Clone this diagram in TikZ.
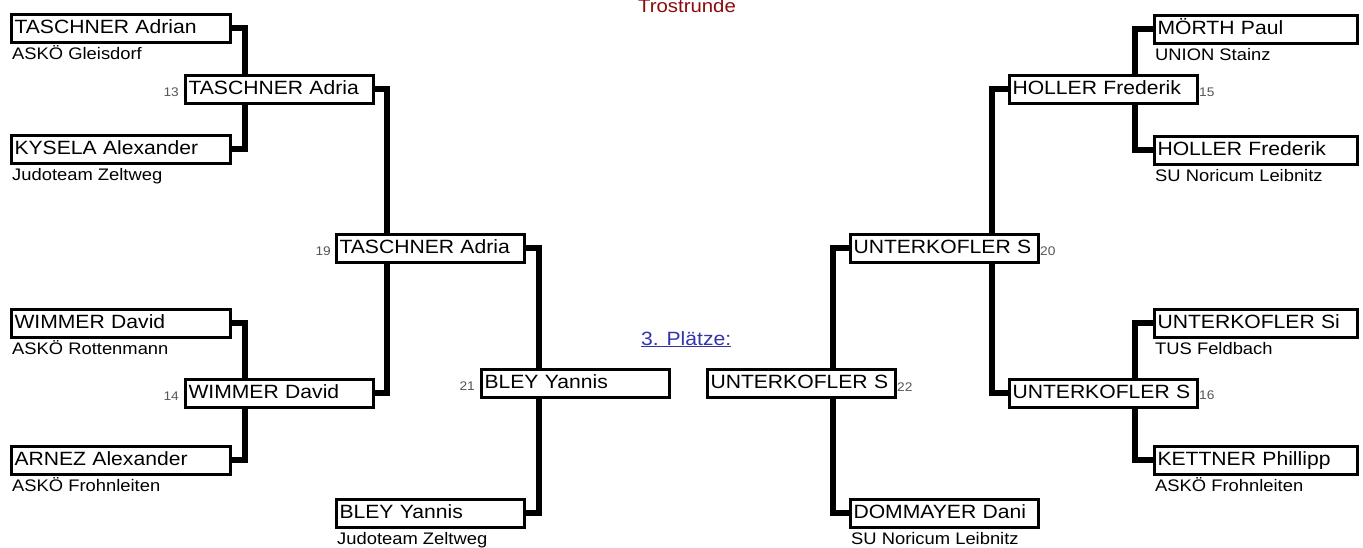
\documentclass[tikz,border=0pt]{standalone}
\usepackage{fontspec}
\setmainfont{Liberation Sans}[FakeStretch=1.1]
\usetikzlibrary{backgrounds}
\definecolor{trost}{RGB}{140,10,10}
\definecolor{linkblue}{RGB}{51,51,170}
\definecolor{numgray}{RGB}{85,85,85}
\tikzset{
  pbox/.style={draw, line width=3pt, fill=white, anchor=north west, inner xsep=3.5pt, inner ysep=0pt,
    minimum height=28pt, text height=14pt, text depth=4pt, align=left,
    font=\fontsize{19.2}{20}\selectfont},
  boxL/.style={pbox, minimum width=219pt, text width=212pt},
  boxR/.style={pbox, minimum width=203pt, text width=196pt},
  boxS/.style={pbox, minimum width=188pt, text width=181pt},
  club/.style={anchor=base west, inner sep=0pt, font=\fontsize{16.7}{18}\selectfont},
  numL/.style={anchor=base east, inner sep=0pt, text=numgray, font=\fontsize{12.5}{13}\selectfont},
  numR/.style={anchor=base west, inner sep=0pt, text=numgray, font=\fontsize{12.5}{13}\selectfont},
  conn/.style={line width=5.5pt, line join=miter},
}
\begin{document}
\begin{tikzpicture}[x=1pt, y=-1pt]
\useasboundingbox (0,0) rectangle (1363,547);

% ---- left half ----
\node[boxL] (a1) at (9.5,12.5) {\mbox{TASCHNER Adrian}};
\node[boxL] (a2) at (9.5,133.5) {\mbox{KYSELA Alexander}};
\node[boxL] (a3) at (9.5,307.5) {\mbox{WIMMER David}};
\node[boxL] (a4) at (9.5,444.5) {\mbox{ARNEZ Alexander}};
\node[club] (ca1) at (12,59) {ASKÖ Gleisdorf};
\node[club] (ca2) at (12,180) {Judoteam Zeltweg};
\node[club] (ca3) at (12,354) {ASKÖ Rottenmann};
\node[club] (ca4) at (12,491) {ASKÖ Frohnleiten};

\node[boxS] (b1) at (183.5,73.5) {\mbox{TASCHNER Adria}};
\node[boxS] (b2) at (183.5,377.5) {\mbox{WIMMER David}};
\node[numL] (n13) at (179,96) {13};
\node[numL] (n14) at (179,400) {14};

\node[boxS] (c1) at (334.5,232.5) {\mbox{TASCHNER Adria}};
\node[numL] (n19) at (331,255) {19};

\node[boxS] (d1) at (479.5,368) {\mbox{BLEY Yannis}};
\node[numL] (n21) at (475,390) {21};

\node[boxS] (e1) at (334.5,497.5) {\mbox{BLEY Yannis}};
\node[club] (ce1) at (337,544) {Judoteam Zeltweg};

% ---- right half ----
\node[boxR] (j1) at (1152.5,13.5) {\mbox{MÖRTH Paul}};
\node[boxR] (j2) at (1152.5,134.5) {\mbox{HOLLER Frederik}};
\node[boxR] (j3) at (1152.5,307.5) {\mbox{UNTERKOFLER Si}};
\node[boxR] (j4) at (1152.5,444.5) {\mbox{KETTNER Phillipp}};
\node[club] (cj1) at (1155,60) {UNION Stainz};
\node[club] (cj2) at (1155,181) {SU Noricum Leibnitz};
\node[club] (cj3) at (1155,354) {TUS Feldbach};
\node[club] (cj4) at (1155,491) {ASKÖ Frohnleiten};

\node[boxS] (i1) at (1007.5,73.5) {\mbox{HOLLER Frederik}};
\node[boxS] (i2) at (1007.5,377.5) {\mbox{UNTERKOFLER S}};
\node[numR] (n15) at (1199,96) {15};
\node[numR] (n16) at (1199,399) {16};

\node[boxS] (g1) at (848.5,232.5) {\mbox{UNTERKOFLER S}};
\node[numR] (n20) at (1040,255) {20};

\node[boxS] (f1) at (705.5,368) {\mbox{UNTERKOFLER S}};
\node[numR] (n22) at (897,391) {22};

\node[boxS] (h1) at (848.5,497.5) {\mbox{DOMMAYER Dani}};
\node[club] (ch1) at (851,544) {SU Noricum Leibnitz};

% ---- titles ----
\node[anchor=base, inner sep=0pt, text=trost, font=\fontsize{18.5}{20}\selectfont] (title) at (687,12) {Trostrunde};
\node[anchor=base west, inner sep=0pt, text=linkblue, font=\fontsize{19.2}{20}\selectfont] (third) at (641,345) {\underline{3. Plätze:}};

% ---- connectors ----
\coordinate (k1) at (245,80);
\coordinate (k2) at (245,390);
\coordinate (k3) at (387,240);
\coordinate (k4) at (539,400);
\coordinate (k5) at (1135,80);
\coordinate (k6) at (1135,390);
\coordinate (k7) at (992,240);
\coordinate (k8) at (833,400);
\begin{scope}[on background layer]
\draw[conn] (a1.east) -| (k1) |- (a2.east);
\draw[conn] (a3.east) -| (k2) |- (a4.east);
\draw[conn] (b1.east) -| (k3) |- (b2.east);
\draw[conn] (c1.east) -| (k4) |- (e1.east);
\draw[conn] (j1.west) -| (k5) |- (j2.west);
\draw[conn] (j3.west) -| (k6) |- (j4.west);
\draw[conn] (i1.west) -| (k7) |- (i2.west);
\draw[conn] (g1.west) -| (k8) |- (h1.west);
\end{scope}
\end{tikzpicture}
\end{document}
